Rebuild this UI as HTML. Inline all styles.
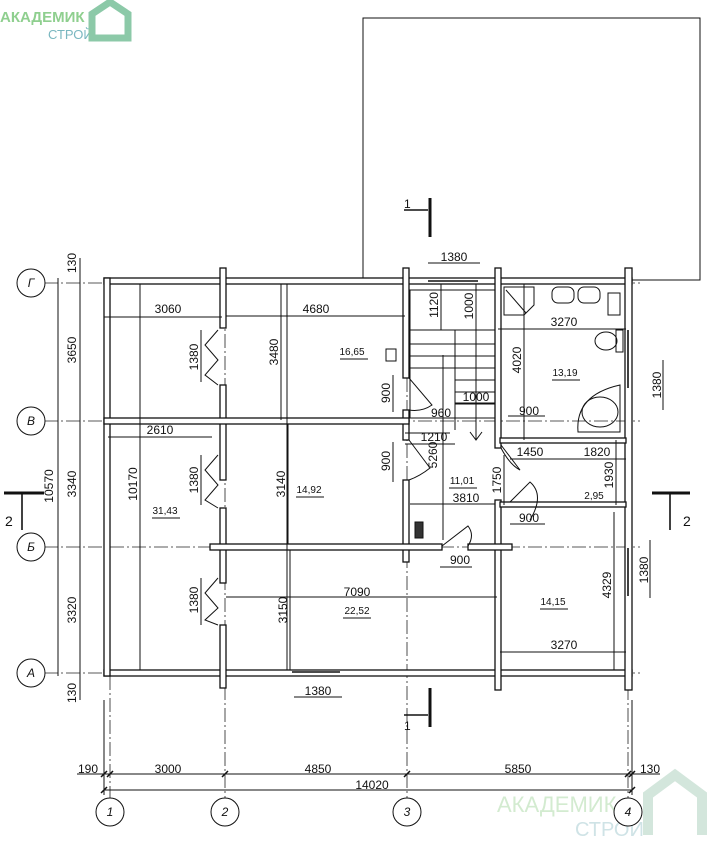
<!DOCTYPE html>
<html><head><meta charset="utf-8"><style>
html,body{margin:0;padding:0;background:#fff}
svg{display:block}
text{font-family:"Liberation Sans","DejaVu Sans",sans-serif;font-size:12px;fill:#111}
.w{fill:#fff;stroke:#111;stroke-width:1.3}
.l{stroke:#111;stroke-width:1;fill:none}
.ax{stroke:#222;stroke-width:.8;stroke-dasharray:14 3 2 3;fill:none}
.t{stroke:#111;stroke-width:1.6}
</style></head><body>
<svg width="708" height="841" viewBox="0 0 708 841" xmlns="http://www.w3.org/2000/svg">
<text x="0" y="22" style="font-size:15px;font-weight:bold;fill:#8fcf8f">АКАДЕМИК</text>
<text x="48" y="39" style="font-size:13px;fill:#7ab7c0">СТРОЙ</text>
<path d="M92 38 L92 14 L110 2 L128 14 L128 38 Z" fill="none" stroke="#8cc9a8" stroke-width="7"/>
<text x="497" y="812" style="font-size:22px;fill:#d3ebd0">АКАДЕМИК</text>
<text x="575" y="836" style="font-size:20px;fill:#cfe3e6">СТРОЙ</text>
<path d="M648 835 L648 795 L675 775 L702 795 L702 835" fill="none" stroke="#d3e6dc" stroke-width="10"/>

<rect x="363" y="18" width="337" height="262" class="l"/>

<g class="ax">
<line x1="44" y1="283" x2="640" y2="283"/>
<line x1="44" y1="421" x2="640" y2="421"/>
<line x1="44" y1="547" x2="640" y2="547"/>
<line x1="44" y1="673" x2="640" y2="673"/>
<line x1="110" y1="280" x2="110" y2="798"/>
<line x1="225" y1="268" x2="225" y2="798"/>
<line x1="407" y1="268" x2="407" y2="798"/>
<line x1="628" y1="268" x2="628" y2="798"/>
</g>
<g fill="#fff" stroke="#111" stroke-width="1">
<circle cx="31" cy="283" r="14"/><circle cx="31" cy="421" r="14"/>
<circle cx="31" cy="547" r="14"/><circle cx="31" cy="673" r="14"/>
<circle cx="110" cy="812" r="14"/><circle cx="225" cy="812" r="14"/>
<circle cx="407" cy="812" r="14"/><circle cx="628" cy="812" r="14"/>
</g>
<g style="font-style:italic;font-size:11px" text-anchor="middle">
<text x="31" y="287">Г</text><text x="31" y="425">В</text><text x="31" y="551">Б</text><text x="31" y="677">А</text>
<text x="110" y="816">1</text><text x="225" y="816">2</text><text x="407" y="816">3</text><text x="628" y="816">4</text>
</g>

<rect class="w" x="104" y="278" width="528" height="6"/>
<rect class="w" x="104" y="670" width="528" height="6"/>
<rect class="w" x="104" y="278" width="6" height="398"/>
<rect class="w" x="625" y="268" width="7" height="422"/>
<rect class="w" x="220" y="268" width="6" height="60"/>
<rect class="w" x="220" y="385" width="6" height="95"/>
<rect class="w" x="220" y="508" width="6" height="75"/>
<rect class="w" x="220" y="625" width="6" height="63"/>
<rect class="w" x="403" y="268" width="6" height="110"/>
<rect class="w" x="403" y="410" width="6" height="30"/>
<rect class="w" x="403" y="480" width="6" height="82"/>
<rect class="w" x="495" y="268" width="6" height="180"/>
<rect class="w" x="495" y="500" width="6" height="190"/>
<rect class="w" x="104" y="418" width="305" height="6"/>
<rect class="w" x="210" y="544" width="232" height="6"/>
<rect class="w" x="468" y="544" width="44" height="6"/>
<rect class="w" x="500" y="438" width="126" height="5"/>
<rect class="w" x="500" y="502" width="126" height="5"/>
<line class="t" x1="292" y1="672" x2="340" y2="672" stroke-width="3"/>
<line class="t" x1="428" y1="281" x2="478" y2="281" stroke-width="3"/>
<line class="t" x1="628" y1="330" x2="628" y2="388" stroke-width="3"/>
<line class="t" x1="628" y1="548" x2="628" y2="596" stroke-width="3"/>
<line class="l" x1="140" y1="284" x2="140" y2="670"/>
<line class="l" x1="287" y1="284" x2="287" y2="670"/>

<g class="l">
<path d="M218 330 L205 345 L218 360 L205 375 L218 385"/>
<path d="M218 455 L205 470 L218 485 L205 500 L218 508"/>
<path d="M218 578 L205 593 L218 608 L205 620 L218 625"/>
<path d="M409 378 L432 405 Q422 412 409 410"/>
<path d="M409 440 L430 468 Q420 476 409 480"/>
<path d="M442 546 L468 526 Q475 535 468 546"/>
<path d="M510 502 L530 482 Q545 495 530 520"/>
<path d="M501 445 L520 470 Q510 465 501 448"/>
<rect x="410" y="290" width="85" height="128"/>
<line x1="410" y1="330" x2="495" y2="330"/><line x1="455" y1="330" x2="455" y2="430"/>
<line x1="410" y1="344" x2="495" y2="344"/><line x1="410" y1="356" x2="495" y2="356"/>
<line x1="410" y1="368" x2="495" y2="368"/><line x1="455" y1="380" x2="495" y2="380"/>
<line x1="455" y1="392" x2="495" y2="392"/><line x1="455" y1="404" x2="495" y2="404"/>
<line x1="476" y1="290" x2="476" y2="440"/><path d="M470 432 L476 440 L482 432"/>
<path d="M504 287 L534 287 L534 305 L524 315 L504 315 Z"/><line x1="506" y1="290" x2="526" y2="313"/>
<rect x="552" y="287" width="22" height="16" rx="6"/><rect x="578" y="287" width="22" height="16" rx="6"/>
<rect x="608" y="293" width="12" height="22"/>
<ellipse cx="606" cy="341" rx="11" ry="9"/><rect x="616" y="330" width="7" height="22"/>
<path d="M578 432 Q575 395 620 385 L620 432 Z"/><ellipse cx="600" cy="412" rx="18" ry="15"/>
<rect x="386" y="349" width="10" height="12"/><rect x="415" y="522" width="8" height="16" fill="#333"/>
</g>

<g class="l">
<line x1="58" y1="278" x2="58" y2="676"/>
<line x1="80" y1="258" x2="80" y2="700"/>
<line x1="77" y1="774" x2="660" y2="774"/>
<line x1="104" y1="790" x2="632" y2="790"/>
<line x1="104" y1="700" x2="104" y2="795"/><line x1="632" y1="700" x2="632" y2="795"/>
<line x1="104" y1="317" x2="222" y2="317"/>
<line x1="226" y1="316" x2="405" y2="316"/>
<line x1="108" y1="437" x2="212" y2="437"/>
<line x1="226" y1="597" x2="497" y2="597"/>
<line x1="500" y1="652" x2="626" y2="652"/>
<line x1="498" y1="329" x2="626" y2="329"/>
<line x1="410" y1="504" x2="495" y2="504"/>
<line x1="405" y1="433" x2="450" y2="433"/>
<line x1="405" y1="444" x2="455" y2="444"/>
<line x1="455" y1="403" x2="495" y2="403"/>
<line x1="510" y1="459" x2="626" y2="459"/>
<line x1="508" y1="416" x2="545" y2="416"/>
<line x1="510" y1="524" x2="545" y2="524"/>
<line x1="440" y1="567" x2="472" y2="567"/>
<line x1="428" y1="263" x2="480" y2="263"/>
<line x1="294" y1="697" x2="342" y2="697"/>
<line x1="281" y1="284" x2="281" y2="420"/>
<line x1="288" y1="424" x2="288" y2="544"/>
<line x1="290" y1="550" x2="290" y2="670"/>
<line x1="140" y1="420" x2="140" y2="545"/>
<line x1="201" y1="330" x2="201" y2="382"/>
<line x1="201" y1="455" x2="201" y2="505"/>
<line x1="201" y1="578" x2="201" y2="625"/>
<line x1="441" y1="284" x2="441" y2="330"/>
<line x1="476" y1="284" x2="476" y2="330"/>
<line x1="443" y1="355" x2="443" y2="540"/>
<line x1="524" y1="284" x2="524" y2="440"/>
<line x1="504" y1="455" x2="504" y2="505"/>
<line x1="616" y1="440" x2="616" y2="505"/>
<line x1="614" y1="512" x2="614" y2="670"/>
<line x1="663" y1="360" x2="663" y2="410"/>
<line x1="650" y1="540" x2="650" y2="598"/>
<line x1="393" y1="375" x2="393" y2="412"/>
<line x1="393" y1="442" x2="393" y2="482"/>
<!-- area underlines -->
<line x1="340" y1="359" x2="368" y2="359"/><line x1="296" y1="497" x2="324" y2="497"/>
<line x1="152" y1="518" x2="180" y2="518"/><line x1="343" y1="618" x2="371" y2="618"/>
<line x1="552" y1="380" x2="580" y2="380"/><line x1="540" y1="609" x2="568" y2="609"/>
<line x1="449" y1="488" x2="477" y2="488"/>
</g>
<!-- ticks on bottom dims -->
<g stroke="#111" stroke-width="1.5">
<line x1="101" y1="777" x2="107" y2="771"/><line x1="107" y1="777" x2="113" y2="771"/>
<line x1="222" y1="777" x2="228" y2="771"/><line x1="404" y1="777" x2="410" y2="771"/>
<line x1="625" y1="777" x2="631" y2="771"/><line x1="629" y1="777" x2="635" y2="771"/>
<line x1="101" y1="793" x2="107" y2="787"/><line x1="629" y1="793" x2="635" y2="787"/>
</g>
<g class="t">
<line x1="430" y1="198" x2="430" y2="237" stroke-width="3"/><line x1="404" y1="210" x2="428" y2="210"/>
<line x1="430" y1="688" x2="430" y2="727" stroke-width="3"/><line x1="404" y1="715" x2="428" y2="715"/>
<line x1="4" y1="493" x2="44" y2="493" stroke-width="3"/><line x1="22" y1="493" x2="22" y2="530"/>
<line x1="652" y1="493" x2="690" y2="493" stroke-width="3"/><line x1="670" y1="493" x2="670" y2="530"/>
</g>
<text x="404" y="208">1</text><text x="404" y="730">1</text>
<text x="5" y="526" style="font-size:14px">2</text><text x="683" y="526" style="font-size:14px">2</text>

<g text-anchor="middle">
<text x="168" y="313">3060</text><text x="316" y="313">4680</text>
<text x="160" y="434">2610</text><text x="454" y="261">1380</text>
<text x="564" y="326">3270</text><text x="565" y="376" style="font-size:10px">13,19</text>
<text x="352" y="355" style="font-size:10px">16,65</text><text x="309" y="493" style="font-size:10px">14,92</text>
<text x="165" y="514" style="font-size:10px">31,43</text><text x="357" y="614" style="font-size:10px">22,52</text>
<text x="357" y="596">7090</text><text x="564" y="649">3270</text><text x="553" y="605" style="font-size:10px">14,15</text>
<text x="476" y="401">1000</text><text x="441" y="417">960</text><text x="434" y="441">1210</text>
<text x="529" y="415">900</text><text x="530" y="456">1450</text><text x="597" y="456">1820</text>
<text x="594" y="499" style="font-size:10px">2,95</text><text x="462" y="484" style="font-size:10px">11,01</text>
<text x="466" y="502">3810</text><text x="529" y="522">900</text><text x="460" y="564">900</text>
<text x="318" y="695">1380</text>
<text x="88" y="773">190</text><text x="168" y="773">3000</text><text x="318" y="773">4850</text>
<text x="518" y="773">5850</text><text x="650" y="773">130</text><text x="372" y="789">14020</text>
</g>
<g text-anchor="middle">
<text transform="translate(76,263) rotate(-90)">130</text>
<text transform="translate(76,350) rotate(-90)">3650</text>
<text transform="translate(76,484) rotate(-90)">3340</text>
<text transform="translate(76,610) rotate(-90)">3320</text>
<text transform="translate(76,693) rotate(-90)">130</text>
<text transform="translate(53,486) rotate(-90)">10570</text>
<text transform="translate(137,484) rotate(-90)">10170</text>
<text transform="translate(198,357) rotate(-90)">1380</text>
<text transform="translate(198,480) rotate(-90)">1380</text>
<text transform="translate(198,600) rotate(-90)">1380</text>
<text transform="translate(278,352) rotate(-90)">3480</text>
<text transform="translate(285,484) rotate(-90)">3140</text>
<text transform="translate(287,610) rotate(-90)">3150</text>
<text transform="translate(390,393) rotate(-90)">900</text>
<text transform="translate(390,461) rotate(-90)">900</text>
<text transform="translate(438,305) rotate(-90)">1120</text>
<text transform="translate(473,306) rotate(-90)">1000</text>
<text transform="translate(437,455) rotate(-90)">5260</text>
<text transform="translate(521,360) rotate(-90)">4020</text>
<text transform="translate(501,480) rotate(-90)">1750</text>
<text transform="translate(613,475) rotate(-90)">1930</text>
<text transform="translate(611,585) rotate(-90)">4329</text>
<text transform="translate(661,385) rotate(-90)">1380</text>
<text transform="translate(648,570) rotate(-90)">1380</text>
</g>
</svg>
</body></html>
